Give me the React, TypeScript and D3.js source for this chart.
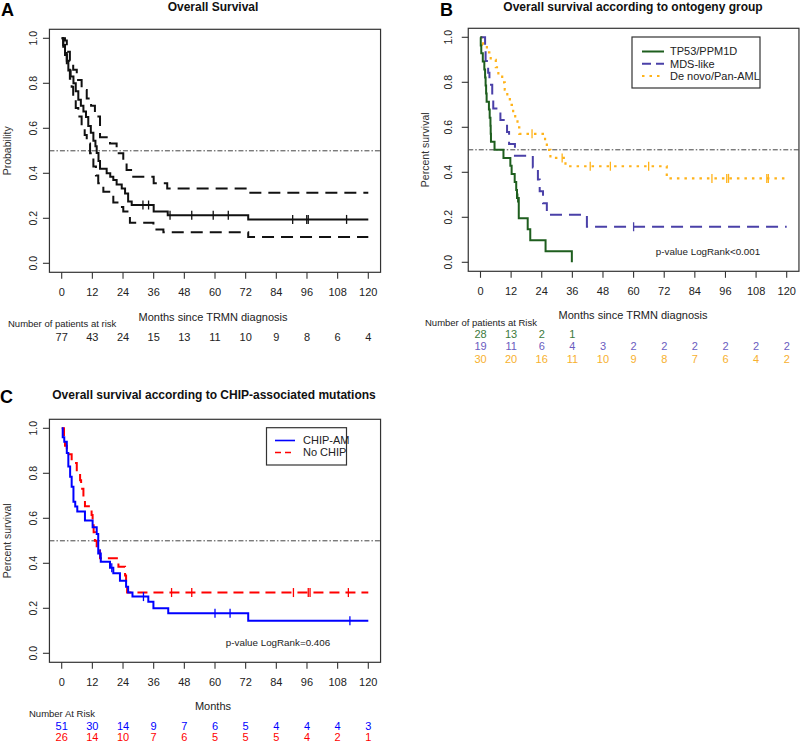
import React from "react";
import * as d3 from "d3";

// ---------- DATA ----------
const xTicks = [0, 12, 24, 36, 48, 60, 72, 84, 96, 108, 120];
const yTicks = [0, 0.2, 0.4, 0.6, 0.8, 1.0];

// Panel A: overall survival with 95% CI
const aTime = [0, 0.6, 1.3, 2, 2.6, 3.5, 4.6, 5.5, 6.5, 7.5, 8.5, 9.5, 10.4, 11.4, 12.4, 13.2, 13.7, 14.4, 15, 17.6, 19, 20.2, 21.5, 23.5, 24.8, 26, 27.4, 36, 41.5, 73];
const aSurv = [1, 0.97, 0.935, 0.9, 0.857, 0.83, 0.8, 0.765, 0.727, 0.7, 0.675, 0.65, 0.61, 0.58, 0.545, 0.52, 0.49, 0.455, 0.42, 0.4, 0.385, 0.37, 0.35, 0.333, 0.31, 0.275, 0.259, 0.23, 0.214, 0.195];
const aCensor = [31.8, 34, 42.4, 50.9, 59.3, 65.2, 90.4, 95.9, 96.5, 111.5];
const aUpTime = [0, 1.3, 2, 3.2, 4.5, 5.9, 7.8, 9.8, 11.5, 13, 15, 18.9, 21.5, 24.1, 25.4, 28, 36, 41.3, 73];
const aUpSurv = [1, 0.99, 0.94, 0.9, 0.86, 0.815, 0.77, 0.733, 0.7, 0.652, 0.56, 0.533, 0.489, 0.444, 0.415, 0.385, 0.356, 0.333, 0.314];
const aLoTime = [0, 0.6, 1.3, 2, 3.2, 3.9, 4.5, 5.5, 6.5, 7.8, 9, 9.8, 11.1, 12.4, 13.4, 14.3, 16.3, 20.2, 22.5, 24.1, 26.7, 35.9, 39.8, 73];
const aLoSurv = [1, 0.963, 0.926, 0.86, 0.82, 0.785, 0.726, 0.69, 0.652, 0.607, 0.57, 0.533, 0.489, 0.43, 0.39, 0.356, 0.318, 0.27, 0.25, 0.23, 0.18, 0.15, 0.138, 0.117];
const aRisk = [77, 43, 24, 15, 13, 11, 10, 9, 8, 6, 4];

// Panel B: ontogeny groups
const bNames = ["TP53/PPM1D", "MDS-like", "De novo/Pan-AML"];
const tpTime = [0, 0.1, 0.3, 0.9, 1.5, 1.8, 2, 2.2, 2.4, 3.3, 3.6, 3.9, 4, 4.1, 5.5, 9, 11.7, 12.2, 13.4, 14, 14.3, 15, 18.5, 19.5, 25.5, 35.8];
const tpSurv = [1, 0.964, 0.929, 0.893, 0.857, 0.821, 0.786, 0.75, 0.714, 0.679, 0.643, 0.607, 0.571, 0.536, 0.5, 0.464, 0.429, 0.393, 0.357, 0.321, 0.286, 0.196, 0.147, 0.098, 0.049, 0];
const tpCensor = [14.6];
const mdsTime = [0, 1.8, 2, 3, 3.5, 4.6, 5, 7.8, 10.4, 11.2, 13.5, 20.5, 22.5, 23.2, 24.5, 26, 41.7];
const mdsSurv = [1, 0.947, 0.895, 0.842, 0.789, 0.737, 0.684, 0.632, 0.579, 0.526, 0.474, 0.421, 0.368, 0.316, 0.263, 0.211, 0.158];
const mdsCensor = [60];
const dnTime = [0, 1, 2.5, 4, 6, 7, 8.5, 9.5, 10.5, 11.5, 12.8, 13.6, 14.5, 15.2, 25.3, 26, 27.4, 33.3, 73];
const dnSurv = [1, 0.967, 0.933, 0.9, 0.867, 0.833, 0.8, 0.767, 0.733, 0.7, 0.667, 0.633, 0.6, 0.571, 0.536, 0.5, 0.464, 0.427, 0.373];
const dnCensor = [20.2, 32, 43, 50.9, 65.9, 90.7, 96.5, 97.2, 112.2, 112.8];
const tpRisk = [28, 13, 2, 1];
const mdsRisk = [19, 11, 6, 4, 3, 2, 2, 2, 2, 2, 2];
const dnRisk = [30, 20, 16, 11, 10, 9, 8, 7, 6, 4, 2];

// Panel C: CHIP-associated mutations
const cNames = ["CHIP-AM", "No CHIP"];
const chipTime = [0, 0.4, 1, 2, 2.6, 3.3, 3.9, 4.6, 5.3, 6.1, 9.1, 12.1, 13.7, 14.3, 15.3, 18.9, 20.2, 22.8, 25.2, 26, 27.7, 33.9, 35.9, 41.7, 73];
const chipSurv = [1, 0.96, 0.94, 0.89, 0.83, 0.785, 0.74, 0.674, 0.652, 0.63, 0.59, 0.56, 0.53, 0.444, 0.407, 0.38, 0.356, 0.323, 0.296, 0.27, 0.252, 0.229, 0.2, 0.178, 0.145];
const chipCensor = [15, 19.6, 32, 60, 65.9, 112.8];
const noTime = [0, 0.9, 1.3, 2, 3.9, 5.9, 7.2, 7.6, 8.5, 9.1, 11.7, 12.1, 12.5, 13, 13.7, 15, 22.2, 24.8, 25.2, 25.6];
const noSurv = [1, 0.962, 0.923, 0.885, 0.846, 0.808, 0.769, 0.731, 0.692, 0.654, 0.615, 0.577, 0.538, 0.5, 0.462, 0.423, 0.385, 0.346, 0.308, 0.27];
const noCensor = [43, 50.9, 90.7, 96.5, 97.2, 112.2];
const chipRisk = [51, 30, 14, 9, 7, 6, 5, 4, 4, 4, 3];
const noRisk = [26, 14, 10, 7, 6, 5, 5, 5, 4, 2, 1];

// ---------- STYLE ----------
const FONT = "'Liberation Sans', Arial, Helvetica, sans-serif";
const GREEN = "#1e5e1e";
const SLATE = "#4a40a8";
const SLATE_TXT = "#6a5cc0";
const ORANGE = "#ffb31a";
const ORANGE_TXT = "#f7b02e";
const BLUE = "#0000ff";
const RED = "#ff0000";
const AXIS = "#333";

type Panel = { x: d3.ScaleLinear<number, number>; y: d3.ScaleLinear<number, number> };

function mkPanel(x0: number, x120: number, y0: number, y1: number): Panel {
  return {
    x: d3.scaleLinear().domain([0, 120]).range([x0, x120]),
    y: d3.scaleLinear().domain([0, 1]).range([y0, y1]),
  };
}

function survAt(times: number[], surv: number[], t: number) {
  let v = surv[0];
  for (let i = 0; i < times.length; i++) if (times[i] <= t) v = surv[i];
  return v;
}

function Curve({ p, times, surv, end, color, width, dash, censor }: {
  p: Panel; times: number[]; surv: number[]; end: number; color: string; width: number; dash?: string; censor?: number[];
}) {
  const pts: [number, number][] = times.map((t, i) => [t, surv[i]]);
  pts.push([end, surv[surv.length - 1]]);
  const line = d3.line<[number, number]>().x((d) => p.x(d[0])).y((d) => p.y(d[1])).curve(d3.curveStepAfter);
  return (
    <g>
      <path d={line(pts) || ""} fill="none" stroke={color} strokeWidth={width} strokeDasharray={dash} />
      {(censor || []).map((c, i) => {
        const cx = p.x(c);
        const cy = p.y(survAt(times, surv, c));
        return <line key={i} x1={cx} x2={cx} y1={cy - 4.5} y2={cy + 4.5} stroke={color} strokeWidth={1.3} />;
      })}
    </g>
  );
}

function Frame({ p, ylab, ylabX, yTickX }: { p: Panel; ylab: string; ylabX: number; yTickX: number }) {
  const bx0 = p.x(-4.8), bx1 = p.x(124.8), by0 = p.y(1.04), by1 = p.y(-0.04);
  const ym = (by0 + by1) / 2;
  return (
    <g fontFamily={FONT}>
      <rect x={bx0} y={by0} width={bx1 - bx0} height={by1 - by0} fill="none" stroke={AXIS} strokeWidth={1.2} />
      {xTicks.map((t) => (
        <g key={t}>
          <line x1={p.x(t)} x2={p.x(t)} y1={by1} y2={by1 + 6.5} stroke={AXIS} strokeWidth={1.1} />
          <text x={p.x(t)} y={by1 + 19.5} dy="0.35em" textAnchor="middle" fontSize={11} fill="#222">{t}</text>
        </g>
      ))}
      {yTicks.map((v) => (
        <g key={v}>
          <line x1={bx0} x2={bx0 - 6.5} y1={p.y(v)} y2={p.y(v)} stroke={AXIS} strokeWidth={1.1} />
          <text transform={`translate(${yTickX},${p.y(v)}) rotate(-90)`} dy="0.35em" textAnchor="middle" fontSize={10.5} fill="#222">{v.toFixed(1)}</text>
        </g>
      ))}
      <text transform={`translate(${ylabX},${ym}) rotate(-90)`} dy="0.35em" textAnchor="middle" fontSize={10.5} fill="#333">{ylab}</text>
      <line x1={bx0} x2={bx1} y1={p.y(0.5)} y2={p.y(0.5)} stroke="#444" strokeWidth={1} strokeDasharray="5 2 1.5 2" />
    </g>
  );
}

function RiskRow({ p, values, y, color }: { p: Panel; values: number[]; y: number; color: string }) {
  return (
    <g fontFamily={FONT}>
      {values.map((v, i) => (
        <text key={i} x={p.x(xTicks[i])} y={y} dy="0.35em" textAnchor="middle" fontSize={11} fill={color}>{v}</text>
      ))}
    </g>
  );
}

export default function App() {
  const pA = mkPanel(61.7, 368.3, 263.3, 38.3);
  const pB = mkPanel(480.5, 786.7, 262.3, 37.3);
  const pC = mkPanel(61.7, 368.3, 653.3, 428.3);

  return (
    <div>
      <style>{`body{margin:0}`}</style>
      <svg width={800} height={743} viewBox="0 0 800 743" style={{ display: "block", background: "#fff" }}>
        {/* ---------- Panel A ---------- */}
        <text x={1} y={16} fontFamily={FONT} fontWeight="bold" fontSize={18}>A</text>
        <text x={213} y={7} dy="0.35em" textAnchor="middle" fontFamily={FONT} fontWeight="bold" fontSize={12} fill="#111">Overall Survival</text>
        <Frame p={pA} ylab="Probability" ylabX={7} yTickX={33} />
        <Curve p={pA} times={aUpTime} surv={aUpSurv} end={120} color="#111" width={2} dash="12 7" />
        <Curve p={pA} times={aLoTime} surv={aLoSurv} end={120} color="#111" width={2} dash="12 7" />
        <Curve p={pA} times={aTime} surv={aSurv} end={120} color="#111" width={2} censor={aCensor} />
        <text x={213} y={316.7} dy="0.35em" textAnchor="middle" fontFamily={FONT} fontSize={11} fill="#222">Months since TRMN diagnosis</text>
        <text x={8} y={323.5} dy="0.35em" fontFamily={FONT} fontSize={9.5} fill="#222">Number of patients at risk</text>
        <RiskRow p={pA} values={aRisk} y={336.7} color="#222" />

        {/* ---------- Panel B ---------- */}
        <text x={440} y={16} fontFamily={FONT} fontWeight="bold" fontSize={18}>B</text>
        <text x={633} y={7} dy="0.35em" textAnchor="middle" fontFamily={FONT} fontWeight="bold" fontSize={12} fill="#111">Overall survival according to ontogeny group</text>
        <Frame p={pB} ylab="Percent survival" ylabX={425} yTickX={448} />
        <Curve p={pB} times={dnTime} surv={dnSurv} end={120} color={ORANGE} width={2.2} dash="2.5 5" censor={dnCensor} />
        <Curve p={pB} times={mdsTime} surv={mdsSurv} end={120} color={SLATE} width={2} dash="12 7" censor={mdsCensor} />
        <Curve p={pB} times={tpTime} surv={tpSurv} end={35.8} color={GREEN} width={2} censor={tpCensor} />
        <g fontFamily={FONT}>
          <rect x={632} y={37} width={128} height={51} fill="#fff" stroke={AXIS} strokeWidth={1.2} />
          {bNames.map((n, i) => {
            const yy = 51.5 + i * 12.3;
            const col = [GREEN, SLATE, ORANGE][i];
            const dash = [undefined, "9 5", "2.5 5"][i];
            return (
              <g key={n}>
                <line x1={642} x2={664} y1={yy} y2={yy} stroke={col} strokeWidth={2} strokeDasharray={dash} />
                <text x={670} y={yy} dy="0.35em" fontSize={11} fill="#222">{n}</text>
              </g>
            );
          })}
        </g>
        <text x={708} y={251.7} dy="0.35em" textAnchor="middle" fontFamily={FONT} fontSize={9.8} fill="#222">p-value LogRank&lt;0.001</text>
        <text x={633} y={315} dy="0.35em" textAnchor="middle" fontFamily={FONT} fontSize={11} fill="#222">Months since TRMN diagnosis</text>
        <text x={425} y={322.7} dy="0.35em" fontFamily={FONT} fontSize={9.5} fill="#222">Number of patients at Risk</text>
        <RiskRow p={pB} values={tpRisk} y={334.3} color="#3c7a3c" />
        <RiskRow p={pB} values={mdsRisk} y={346.5} color={SLATE_TXT} />
        <RiskRow p={pB} values={dnRisk} y={359.5} color={ORANGE_TXT} />

        {/* ---------- Panel C ---------- */}
        <text x={0} y={403} fontFamily={FONT} fontWeight="bold" fontSize={18}>C</text>
        <text x={214} y={395} dy="0.35em" textAnchor="middle" fontFamily={FONT} fontWeight="bold" fontSize={12} fill="#111">Overall survival according to CHIP-associated mutations</text>
        <Frame p={pC} ylab="Percent survival" ylabX={7} yTickX={33} />
        <Curve p={pC} times={noTime} surv={noSurv} end={120} color={RED} width={2} dash="10 6" censor={noCensor} />
        <Curve p={pC} times={chipTime} surv={chipSurv} end={120} color={BLUE} width={2} censor={chipCensor} />
        <g fontFamily={FONT}>
          <rect x={266.5} y={427.7} width={80} height={37.3} fill="#fff" stroke={AXIS} strokeWidth={1.2} />
          {cNames.map((n, i) => {
            const yy = 440.5 + i * 12;
            const col = [BLUE, RED][i];
            const dash = [undefined, "6 4"][i];
            return (
              <g key={n}>
                <line x1={275} x2={295} y1={yy} y2={yy} stroke={col} strokeWidth={1.6} strokeDasharray={dash} />
                <text x={303} y={yy} dy="0.35em" fontSize={11} fill="#222">{n}</text>
              </g>
            );
          })}
        </g>
        <text x={278} y={642.7} dy="0.35em" textAnchor="middle" fontFamily={FONT} fontSize={9.8} fill="#222">p-value LogRank=0.406</text>
        <text x={213} y={706} dy="0.35em" textAnchor="middle" fontFamily={FONT} fontSize={11} fill="#222">Months</text>
        <text x={29} y={713.5} dy="0.35em" fontFamily={FONT} fontSize={9.5} fill="#222">Number At Risk</text>
        <RiskRow p={pC} values={chipRisk} y={725.7} color={BLUE} />
        <RiskRow p={pC} values={noRisk} y={737.3} color={RED} />
      </svg>
    </div>
  );
}
